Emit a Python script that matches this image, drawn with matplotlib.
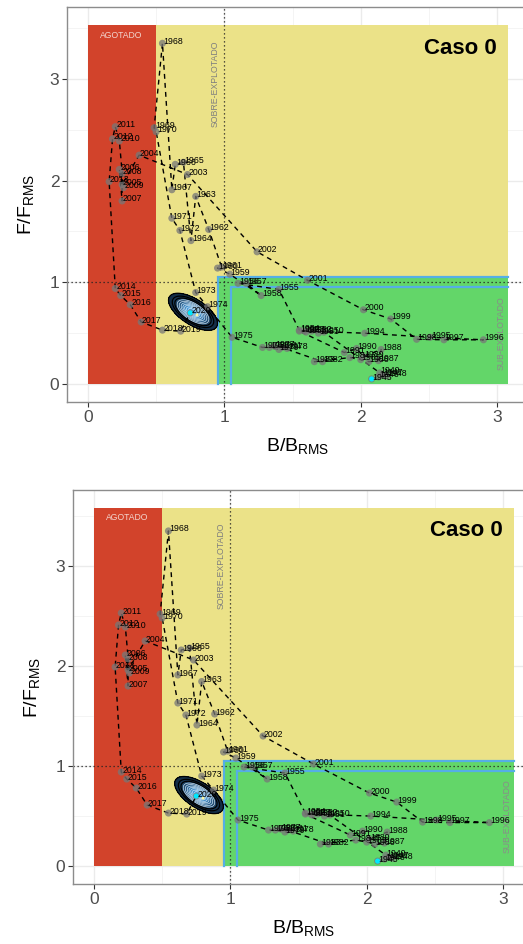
import numpy as np
import matplotlib
matplotlib.use("Agg")
import matplotlib.pyplot as plt
from matplotlib.patches import Rectangle
from matplotlib.colors import LinearSegmentedColormap
from matplotlib.ticker import MultipleLocator

plt.rcParams['font.family'] = ['Liberation Sans', 'DejaVu Sans']

# ---------------- data ----------------
years = list(range(1945, 2021))
b_ratio = [2.08, 2.13, 2.16, 2.19, 2.14,                 # 1945-1949
           1.73, 1.69, 1.64, 1.60, 1.55,                 # 1950-1954
           1.40, 1.10, 1.16, 1.27, 1.04,                 # 1955-1959
           0.95, 0.98, 0.885, 0.79, 0.755,               # 1960-1964
           0.70, 0.64, 0.615, 0.546, 0.485,              # 1965-1969
           0.50, 0.615, 0.674, 0.79, 0.877,              # 1970-1974
           1.056, 1.28, 1.37, 1.46, 1.40,                # 1975-1979
           1.33, 1.42, 1.72, 1.66, 1.92,                 # 1980-1984
           2.00, 2.06, 2.13, 2.15, 2.02,                 # 1985-1989
           1.97, 1.88, 1.55, 1.59, 2.03,                 # 1990-1994
           2.51, 2.90, 2.61, 2.41, 2.22,                 # 1995-1999
           2.02, 1.61, 1.24, 0.73, 0.375,                # 2000-2004
           0.25, 0.23, 0.25, 0.25, 0.26,                 # 2005-2009
           0.23, 0.20, 0.18, 0.155, 0.20,                # 2010-2014
           0.24, 0.31, 0.39, 0.546, 0.68,                # 2015-2019
           0.75]                                         # 2020
f_ratio = [0.05, 0.07, 0.09, 0.08, 0.11,
           0.51, 0.50, 0.52, 0.51, 0.53,
           0.93, 0.99, 0.99, 0.87, 1.08,
           1.14, 1.15, 1.52, 1.845, 1.41,
           2.18, 2.16, 1.91, 3.35, 2.52,
           2.48, 1.63, 1.51, 0.90, 0.76,
           0.46, 0.36, 0.37, 0.35, 0.34,
           0.36, 0.36, 0.22, 0.22, 0.26,
           0.24, 0.22, 0.23, 0.34, 0.27,
           0.35, 0.31, 0.52, 0.52, 0.50,
           0.46, 0.435, 0.435, 0.44, 0.64,
           0.73, 1.02, 1.30, 2.06, 2.25,
           1.96, 2.11, 1.80, 2.07, 1.93,
           2.39, 2.53, 2.41, 1.99, 0.94,
           0.87, 0.78, 0.61, 0.53, 0.52,
           0.70]

# terminal-year uncertainty (bivariate density) parameters
unc_center = (0.77, 0.71)
unc_axes_px = (11.0, 5.0)
unc_angle_deg = -33.0
unc_levels = [0.04, 0.10, 0.17, 0.26, 0.36, 0.47, 0.58, 0.69, 0.80, 0.90]

case_title = "Caso 0"
xlab = r"$\mathregular{B/B_{RMS}}$"
ylab = r"$\mathregular{F/F_{RMS}}$"

# ------------- styling constants -------------
RED = "#D2432B"
YEL = "#EBE288"
GRN = "#63D669"
BLUE = "#55AEE6"
B_LIM = 0.5
B_LOW, B_HIGH = 0.95, 1.05
F_LOW, F_HIGH = 0.95, 1.05
X_RIGHT = 3.08

cmap = LinearSegmentedColormap.from_list("gg", ["#132B43", "#2E6A9C", "#56B1F7"])


def draw(ax, bg_top, pxx, pxy):
    ax.set_xlim(-0.154, 3.234)
    ax.set_ylim(-0.05 * bg_top, 1.05 * bg_top)
    ax.set_facecolor("white")
    # grid
    ax.xaxis.set_major_locator(MultipleLocator(1))
    ax.yaxis.set_major_locator(MultipleLocator(1))
    ax.xaxis.set_minor_locator(MultipleLocator(0.5))
    ax.yaxis.set_minor_locator(MultipleLocator(0.5))
    ax.grid(which="major", color="#EBEBEB", lw=1.0, zorder=0)
    ax.grid(which="minor", color="#F3F3F3", lw=0.6, zorder=0)
    ax.set_axisbelow(True)
    ax.tick_params(which="minor", length=0)
    ax.tick_params(which="major", length=3.5, width=0.8, color="#333333",
                   labelcolor="#4D4D4D", labelsize=12.5, pad=2)
    for s in ax.spines.values():
        s.set_color("#8C8C8C")
        s.set_linewidth(1.0)

    # zones
    ax.add_patch(Rectangle((0, 0), B_LIM, bg_top, color=RED, lw=0, zorder=1))
    ax.add_patch(Rectangle((B_LIM, 0), X_RIGHT - B_LIM, bg_top, color=YEL, lw=0, zorder=1))
    ax.add_patch(Rectangle((B_LOW, 0), X_RIGHT - B_LOW, F_HIGH, color=GRN, lw=0, zorder=1))
    # blue limits
    ax.plot([B_LOW, B_LOW, X_RIGHT], [0, F_HIGH, F_HIGH], color=BLUE, lw=1.6, zorder=2,
            solid_joinstyle="miter")
    ax.plot([B_HIGH, B_HIGH, X_RIGHT], [0, F_LOW, F_LOW], color=BLUE, lw=1.6, zorder=2,
            solid_joinstyle="miter")
    # reference lines
    ax.axvline(1, color="#222222", ls=(0, (1, 2.2)), lw=0.9, zorder=2.5)
    ax.axhline(1, color="#222222", ls=(0, (1, 2.2)), lw=0.9, zorder=2.5)

    # zone labels
    ax.text(0.245, bg_top - 0.1, "AGOTADO", color="#F3D6CF", fontsize=6.2,
            ha="center", va="center", zorder=3)
    ax.text(0.935, bg_top - 0.58, "SOBRE-EXPLOTADO", color="#7F7F7F", fontsize=6.3,
            rotation=90, ha="center", va="center", zorder=3)
    ax.text(3.03, 0.5, "SUB-EXPLOTADO", color="#8A8A8A", fontsize=6.3,
            rotation=90, ha="center", va="center", zorder=3)
    ax.text(3.0, bg_top - 0.23, case_title, fontsize=16, fontweight="bold",
            ha="right", va="center", zorder=3)

    # uncertainty density
    X, Y = np.meshgrid(np.linspace(0.3, 1.3, 400), np.linspace(0.3, 1.1, 400))
    th = np.deg2rad(unc_angle_deg)
    dxp = (X - unc_center[0]) * pxx
    dyp = (Y - unc_center[1]) * pxy
    u = dxp * np.cos(th) + dyp * np.sin(th)
    v = -dxp * np.sin(th) + dyp * np.cos(th)
    Z = np.exp(-0.5 * ((u / unc_axes_px[0]) ** 2 + (v / unc_axes_px[1]) ** 2))
    ax.contourf(X, Y, Z, levels=unc_levels + [1.01], cmap=cmap, zorder=3.2)
    ax.contour(X, Y, Z, levels=unc_levels[:3], colors="black", linewidths=0.9, zorder=3.3)
    ax.contour(X, Y, Z, levels=unc_levels[3:], colors="#D8E8F4", linewidths=0.45,
               zorder=3.3)

    # trajectory
    ax.plot(b_ratio, f_ratio, color="black", lw=1.0, ls=(0, (3.5, 3.0)), zorder=4)
    ax.scatter(b_ratio, f_ratio, s=26, color="#777777", alpha=0.75,
               edgecolor="none", zorder=5)
    ax.scatter([b_ratio[0], b_ratio[-1]], [f_ratio[0], f_ratio[-1]], s=14,
               color="#00E8FF", edgecolor="none", zorder=6)
    ax.scatter([unc_center[0] + 0.03], [unc_center[1] - 0.03], s=5,
               color="#FFF7A0", edgecolor="none", zorder=6)
    for yr, bx, fy in zip(years, b_ratio, f_ratio):
        ax.annotate(str(yr), (bx, fy), xytext=(0.6, 1.4), textcoords="offset points",
                    ha="left", va="center", fontsize=6.3, color="black", zorder=7)

    ax.set_xlabel(xlab, fontsize=14, labelpad=8)
    ax.set_ylabel(ylab, fontsize=14, labelpad=10)


fig = plt.figure(figsize=(5.23, 9.44), dpi=100)
ax1 = fig.add_axes([67 / 523, (944 - 402) / 944, 462 / 523, 395 / 944])
ax2 = fig.add_axes([73 / 523, (944 - 884) / 944, 462 / 523, 394 / 944])
draw(ax1, 3.53, 136.0, 101.7)
draw(ax2, 3.58, 136.8, 100.0)
fig.savefig("out.png", dpi=100)
